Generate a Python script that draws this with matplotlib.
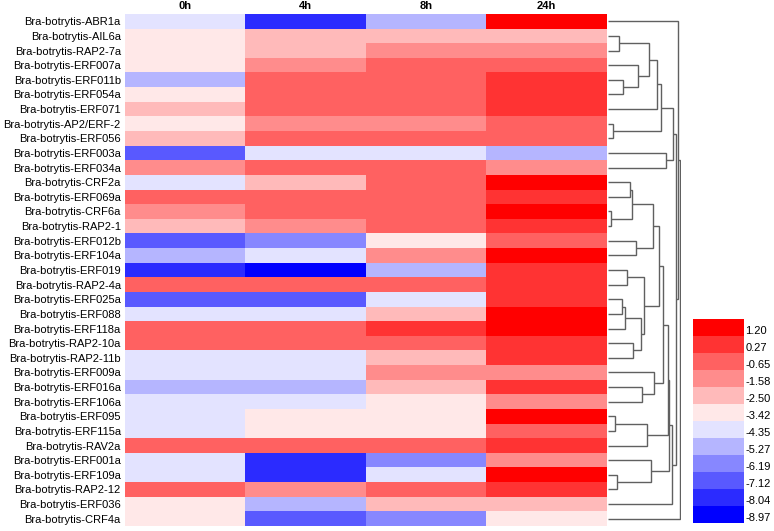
import matplotlib
matplotlib.use("Agg")
import matplotlib.pyplot as plt
import numpy as np
from matplotlib.colors import ListedColormap, BoundaryNorm

plt.rcParams['font.family'] = ['Liberation Sans', 'DejaVu Sans']

genes = ["Bra-botrytis-ABR1a", "Bra-botrytis-AIL6a", "Bra-botrytis-RAP2-7a", "Bra-botrytis-ERF007a",
         "Bra-botrytis-ERF011b", "Bra-botrytis-ERF054a", "Bra-botrytis-ERF071", "Bra-botrytis-AP2/ERF-2",
         "Bra-botrytis-ERF056", "Bra-botrytis-ERF003a", "Bra-botrytis-ERF034a", "Bra-botrytis-CRF2a",
         "Bra-botrytis-ERF069a", "Bra-botrytis-CRF6a", "Bra-botrytis-RAP2-1", "Bra-botrytis-ERF012b",
         "Bra-botrytis-ERF104a", "Bra-botrytis-ERF019", "Bra-botrytis-RAP2-4a", "Bra-botrytis-ERF025a",
         "Bra-botrytis-ERF088", "Bra-botrytis-ERF118a", "Bra-botrytis-RAP2-10a", "Bra-botrytis-RAP2-11b",
         "Bra-botrytis-ERF009a", "Bra-botrytis-ERF016a", "Bra-botrytis-ERF106a", "Bra-botrytis-ERF095",
         "Bra-botrytis-ERF115a", "Bra-botrytis-RAV2a", "Bra-botrytis-ERF001a", "Bra-botrytis-ERF109a",
         "Bra-botrytis-RAP2-12", "Bra-botrytis-ERF036", "Bra-botrytis-CRF4a"]
timepoints = ["0h", "4h", "8h", "24h"]

# estimated expression values (log scale) read from colour classes
v0h = [-3.9, -3.0, -3.0, -3.0, -4.8, -3.0, -2.0, -3.0, -2.0, -6.6, -1.1, -3.9, -0.2, -1.1, -2.0,
       -6.6, -4.8, -7.6, -0.2, -6.6, -3.9, -0.2, -0.2, -3.9, -3.9, -4.8, -3.9, -3.9, -3.9, -0.2,
       -3.9, -3.9, -0.2, -3.0, -3.0]
v4h = [-7.6, -2.0, -2.0, -1.1, -0.2, -0.2, -0.2, -1.1, -0.2, -3.9, -0.2, -2.0, -0.2, -0.2, -1.1,
       -5.7, -3.9, -8.5, -0.2, -6.6, -3.9, -0.2, -0.2, -3.9, -3.9, -4.8, -3.9, -3.0, -3.0, -0.2,
       -7.6, -7.6, -1.1, -4.8, -6.6]
v8h = [-4.8, -2.0, -1.1, -0.2, -0.2, -0.2, -0.2, -1.1, -0.2, -3.9, -0.2, -0.2, -0.2, -0.2, -0.2,
       -3.0, -1.1, -4.8, -0.2, -3.9, -2.0, 0.7, -0.2, -2.0, -1.1, -2.0, -3.0, -3.0, -3.0, -0.2,
       -5.7, -3.9, -0.2, -2.0, -5.7]
v24h = [1.6, -2.0, -1.1, -0.2, 0.7, 0.7, 0.7, -0.2, -0.2, -4.8, -1.1, 1.6, 0.7, 1.6, 0.7,
        -0.2, 1.6, 0.7, 0.7, 0.7, 1.6, 1.6, 0.7, 0.7, -1.1, 0.7, -1.1, 1.6, -0.2, 0.7,
        -1.1, 1.6, 0.7, -2.0, -3.0]

bounds = [-8.97, -8.04, -7.12, -6.19, -5.27, -4.35, -3.42, -2.50, -1.58, -0.65, 0.27, 1.20, 2.13]
cbar_labels = [-8.97, -8.04, -7.12, -6.19, -5.27, -4.35, -3.42, -2.50, -1.58, -0.65, 0.27, 1.20]
colors = ["#0000FF", "#2B2BFF", "#5959FF", "#8787FF", "#B5B5FF", "#E3E3FF",
          "#FFE8E8", "#FFBABA", "#FF8C8C", "#FF6161", "#FF3333", "#FF0000"]

# dendrogram: (merge height, left, right); leaves are row indices
tree = (72, (70, 0, (68,
        (65.3, (53.3, (49.3, (41, (11.3, 1, 2), (30, 3, (15.3, 4, 5))), 6), (4.7, 7, 8)), (57.7, 9, 10)),
        (63.7, (61.3, (59.7, (54.7, (51.3,
                (44.7, (24.3, (22, 11, 12), (3, 13, 14)), (28, 15, 16)),
                (36.3, (19.3, 17, 18), (32.7, (17, (13.7, 19, 20), 21), (25.3, 22, 23)))),
              (46.3, 24, (34.3, 25, 26))),
            (38.7, (7, 27, 28), 29)),
          (42.7, 30, (8.7, 31, 32))), 33))), 34)

W, H = 774, 531
fig = plt.figure(figsize=(W / 100, H / 100), dpi=100)

def fr(x0, y0, x1, y1):
    return [x0 / W, 1 - y1 / H, (x1 - x0) / W, (y1 - y0) / H]

cmap = ListedColormap(colors)
norm = BoundaryNorm(bounds, cmap.N)
data = np.array([v0h, v4h, v8h, v24h]).T
n = len(genes)

ax = fig.add_axes(fr(125, 14, 607, 526))
ax.imshow(data, cmap=cmap, norm=norm, aspect='auto', interpolation='nearest',
          extent=(0, 4, n, 0))
ax.set_xlim(0, 4)
ax.set_ylim(n, 0)
ax.set_xticks(np.arange(4) + 0.5)
ax.set_xticklabels(timepoints, fontweight='bold', fontsize=8)
ax.set_yticks(np.arange(n) + 0.5)
ax.set_yticklabels(genes, fontsize=8)
ax.tick_params(axis='x', top=True, labeltop=True, bottom=False, labelbottom=False, length=0, pad=2)
ax.tick_params(axis='y', length=0, pad=3)
for s in ax.spines.values():
    s.set_visible(False)

# dendrogram
dax = fig.add_axes(fr(608, 14, 681, 526))
dax.set_xlim(0, 73)
dax.set_ylim(n, 0)
dax.axis('off')

def draw(node):
    if isinstance(node, int):
        return node + 0.5, 0.0
    h, a, b = node
    ya, ha = draw(a)
    yb, hb = draw(b)
    dax.plot([ha, h, h, hb], [ya, ya, yb, yb], color='#606060', lw=1.0,
             solid_joinstyle='miter', solid_capstyle='butt')
    return (ya + yb) / 2, h

draw(tree)

# colour key
cax = fig.add_axes(fr(693, 319.3, 744, 522.7))
sm = matplotlib.cm.ScalarMappable(norm=norm, cmap=cmap)
cb = fig.colorbar(sm, cax=cax, ticks=cbar_labels, spacing='proportional')
cb.outline.set_visible(False)
cb.ax.minorticks_off()
cb.ax.set_yticks(cbar_labels)
cb.ax.set_yticklabels([f"{v:.2f}" for v in cbar_labels], fontsize=8)
cb.ax.tick_params(which='both', length=0, pad=1)
for t in cb.ax.get_yticklabels():
    t.set_va('bottom')

fig.savefig("out.png", dpi=100)
